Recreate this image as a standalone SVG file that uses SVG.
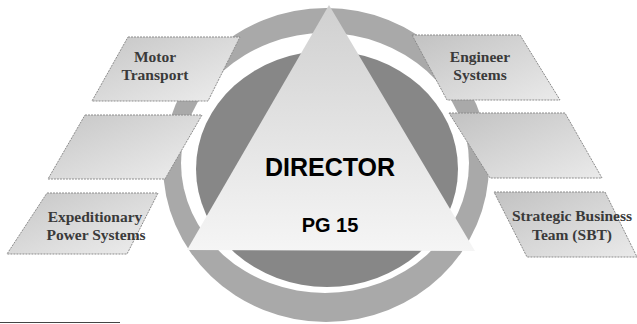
<svg xmlns="http://www.w3.org/2000/svg" width="637" height="324" viewBox="0 0 637 324">
<defs>
<style>
.box{stroke:#8c8c8c;stroke-width:1;stroke-dasharray:2 1}
.lbl{font-family:"Liberation Serif","Times New Roman",serif;font-weight:bold;font-size:15.5px;fill:#3a3a3a;text-anchor:middle}
.big{font-family:"Liberation Sans",Arial,sans-serif;font-weight:bold;fill:#000;text-anchor:middle}
</style>
<linearGradient id="boxL" x1="0" y1="0" x2="1" y2="1">
<stop offset="0" stop-color="#c6c6c6"/>
<stop offset="1" stop-color="#eeeeee"/>
</linearGradient>
<linearGradient id="boxR" x1="0" y1="0" x2="1" y2="1">
<stop offset="0" stop-color="#c2c2c2"/>
<stop offset="1" stop-color="#eaeaea"/>
</linearGradient>
<linearGradient id="tri" x1="0" y1="0" x2="0" y2="1">
<stop offset="0" stop-color="#d0d0d0"/>
<stop offset="1" stop-color="#f5f5f5"/>
</linearGradient>
</defs>
<rect width="637" height="324" fill="#fff"/>
<g id="ring">
<ellipse cx="326" cy="165" rx="163" ry="157" fill="#a9a9a9"/>
<ellipse cx="325" cy="163" rx="144" ry="130" fill="#fff"/>
<ellipse cx="327" cy="169" rx="131" ry="118" fill="#878787"/>
</g>
<g id="connectors"></g>
<g id="motor-transport">
<polygon class="box" points="128,37 240,37 208,101 92,101" fill="url(#boxL)"/>
<text class="lbl" x="155" y="62">Motor</text>
<text class="lbl" x="155" y="80">Transport</text>
</g>
<g id="left-middle">
<polygon class="box" points="85,115 202,115 165,179 48,179" fill="url(#boxL)"/>
</g>
<g id="expeditionary-power-systems">
<polygon class="box" points="47,193 158,193 127,254 7,254" fill="url(#boxL)"/>
<text class="lbl" x="95" y="222">Expeditionary</text>
<text class="lbl" x="96" y="240">Power Systems</text>
</g>
<g id="engineer-systems">
<polygon class="box" points="412,35 520,35 560,100 447,100" fill="url(#boxR)"/>
<text class="lbl" x="480" y="62">Engineer</text>
<text class="lbl" x="480" y="80">Systems</text>
</g>
<g id="right-middle">
<polygon class="box" points="449,113 565,113 602,178 490,178" fill="url(#boxR)"/>
</g>
<g id="strategic-business-team">
<polygon class="box" points="494,192 605,192 637,257 527,257" fill="url(#boxR)"/>
<text class="lbl" x="572" y="221">Strategic Business</text>
<text class="lbl" x="572" y="240">Team (SBT)</text>
</g>
<g id="director">
<polygon points="329,5 475,251 187,250" fill="url(#tri)"/>
<text class="big" x="330" y="176" font-size="25">DIRECTOR</text>
<text class="big" x="330" y="232" font-size="20">PG 15</text>
</g>
<line x1="0" y1="322.5" x2="120" y2="322.5" stroke="#444" stroke-width="1"/>
</svg>
